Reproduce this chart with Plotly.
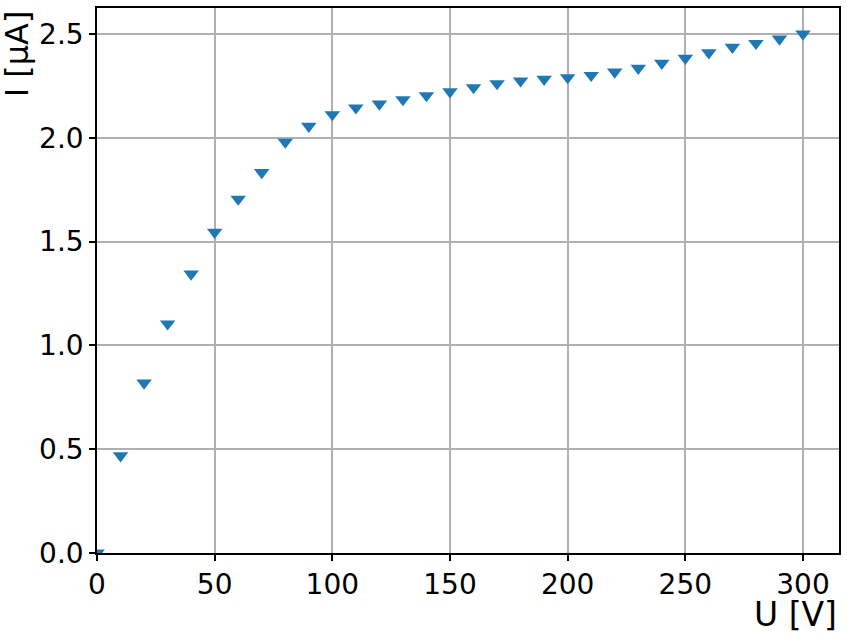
import plotly.graph_objects as go

# Data
U = [0, 10, 20, 30, 40, 50, 60, 70, 80, 90, 100, 110, 120, 130, 140, 150,
     160, 170, 180, 190, 200, 210, 220, 230, 240, 250, 260, 270, 280, 290, 300]
I = [0.0, 0.469, 0.819, 1.104, 1.344, 1.545, 1.705, 1.833, 1.979, 2.056, 2.112,
     2.144, 2.163, 2.184, 2.203, 2.222, 2.242, 2.261, 2.274, 2.282, 2.290,
     2.301, 2.317, 2.335, 2.359, 2.383, 2.410, 2.436, 2.455, 2.476, 2.500]

x_ticks = [0, 50, 100, 150, 200, 250, 300]
y_ticks = [0.0, 0.5, 1.0, 1.5, 2.0, 2.5]
x_label = "U [V]"
y_label = "I [µA]"

FONT = "DejaVu Sans"
FS = 28

fig = go.Figure()
fig.add_trace(go.Scatter(
    x=U, y=I, mode="markers",
    marker=dict(symbol="triangle-down", size=13.5, color="#1f77b4", line=dict(width=0)),
    cliponaxis=True, showlegend=False,
))

axis_common = dict(
    showline=True, linecolor="black", linewidth=1.5, mirror=True,
    showgrid=True, gridcolor="#b0b0b0", gridwidth=1.5,
    ticks="outside", ticklen=6, tickwidth=1.5, tickcolor="black",
    tickfont=dict(family=FONT, size=FS, color="black"),
    zeroline=False, automargin=False,
)

fig.update_xaxes(range=[0, 315.3], tickvals=x_ticks, **axis_common)
fig.update_yaxes(range=[0, 2.625], tickvals=y_ticks, tickformat=".1f", **axis_common)

fig.add_annotation(text=x_label, xref="paper", yref="paper", x=1.0, y=-0.112,
                   xanchor="right", yanchor="middle", showarrow=False,
                   font=dict(family=FONT, size=33, color="black"))
fig.add_annotation(text=y_label, xref="paper", yref="paper", x=-0.108, y=1.0,
                   xanchor="center", yanchor="top", textangle=-90, showarrow=False,
                   font=dict(family=FONT, size=32, color="black"))

fig.update_layout(
    width=847, height=635,
    margin=dict(l=97, r=8, t=8, b=82, autoexpand=False),
    plot_bgcolor="white", paper_bgcolor="white",
    font=dict(family=FONT, size=FS, color="black"),
)

fig.write_html("out.html", config={"displayModeBar": False},
               post_script="document.body.style.margin='0';")
